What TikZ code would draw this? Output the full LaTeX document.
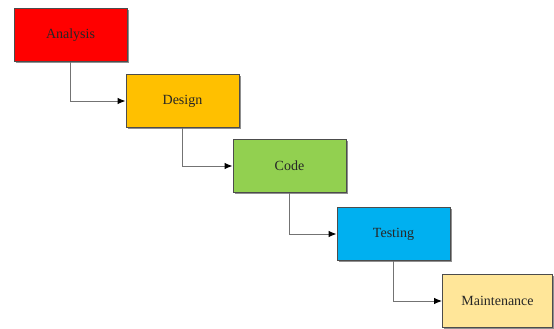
\documentclass[tikz,border=0pt]{standalone}
\usepackage{fontspec}
\setmainfont{Liberation Serif}
\usetikzlibrary{arrows.meta,shadows}
\begin{document}
\begin{tikzpicture}[x=1pt,y=-1pt,
  phase/.style={draw=black!70,line width=0.9pt,minimum width=113pt,minimum height=53pt,
    inner sep=0pt,font=\fontsize{14}{16}\selectfont,text=black!85,
    drop shadow={shadow xshift=1.6pt,shadow yshift=-1.6pt,fill=black!55,opacity=0.8}},
  flow/.style={draw=black!55,line width=1pt,-{Latex[length=8pt,width=6.5pt,color=black]}}]
\useasboundingbox (0,0) rectangle (554,329);
\node[phase,fill={rgb,255:red,255;green,0;blue,0}]     (analysis) at (70.5,35)  {Analysis};
\node[phase,fill={rgb,255:red,255;green,192;blue,0}]   (design)   at (182.5,101) {Design};
\node[phase,fill={rgb,255:red,146;green,208;blue,80}]  (code)     at (289.5,166) {Code};
\node[phase,fill={rgb,255:red,0;green,176;blue,240}]   (testing)  at (393.5,234) {Testing};
\node[phase,fill={rgb,255:red,255;green,230;blue,153},minimum width=110pt] (maint) at (497.5,301) {Maintenance};
\draw[flow] (analysis.south) |- (design.west);
\draw[flow] (design.south) |- (code.west);
\draw[flow] (code.south) |- (testing.west);
\draw[flow] (testing.south) |- (maint.west);
\end{tikzpicture}
\end{document}
